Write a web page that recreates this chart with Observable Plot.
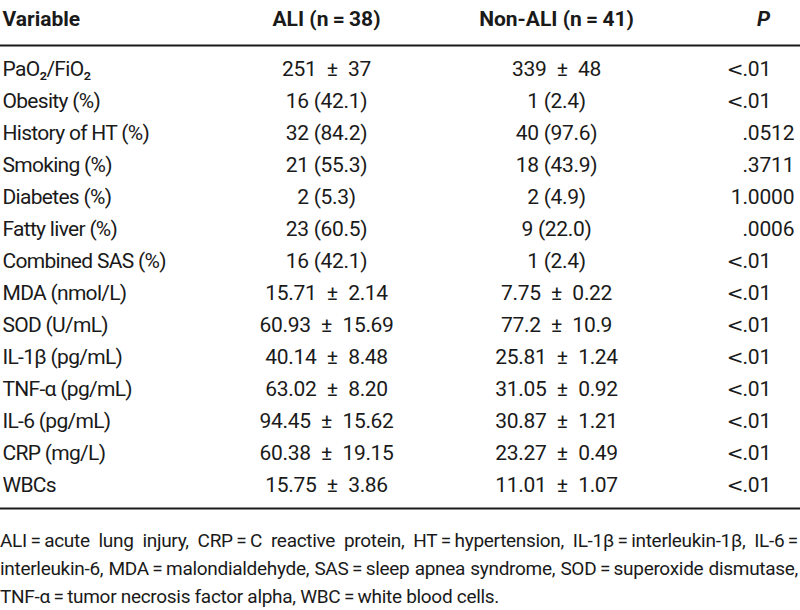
<!DOCTYPE html>
<html>
<head>
<meta charset="utf-8">
<script src="https://cdn.jsdelivr.net/npm/d3@7"></script>
<script src="https://cdn.jsdelivr.net/npm/@observablehq/plot@0.6"></script>
<style>
  html, body { margin: 0; padding: 0; background: #fff; }
  #note { width: 798px; margin-top: 5px; font-family: Roboto, "Liberation Sans", sans-serif;
          font-size: 19px; line-height: 28px; color: #1a1a1a; letter-spacing: -0.3px; }
  #note div { white-space: nowrap; }
  #note .j { text-align: justify; text-align-last: justify; }
</style>
</head>
<body>
<div id="chart"></div>
<div id="note"></div>
<script>
const variables = ["PaO\u2082/FiO\u2082", "Obesity (%)", "History of HT (%)", "Smoking (%)", "Diabetes (%)",
  "Fatty liver (%)", "Combined SAS (%)", "MDA (nmol/L)", "SOD (U/mL)", "IL-1\u03B2 (pg/mL)",
  "TNF-\u03B1 (pg/mL)", "IL-6 (pg/mL)", "CRP (mg/L)", "WBCs"];
const aliValues = ["251 \u00B1 37", "16 (42.1)", "32 (84.2)", "21 (55.3)", "2 (5.3)", "23 (60.5)", "16 (42.1)",
  "15.71 \u00B1 2.14", "60.93 \u00B1 15.69", "40.14 \u00B1 8.48", "63.02 \u00B1 8.20", "94.45 \u00B1 15.62",
  "60.38 \u00B1 19.15", "15.75 \u00B1 3.86"];
const nonAliValues = ["339 \u00B1 48", "1 (2.4)", "40 (97.6)", "18 (43.9)", "2 (4.9)", "9 (22.0)", "1 (2.4)",
  "7.75 \u00B1 0.22", "77.2 \u00B1 10.9", "25.81 \u00B1 1.24", "31.05 \u00B1 0.92", "30.87 \u00B1 1.21",
  "23.27 \u00B1 0.49", "11.01 \u00B1 1.07"];
const pValues = ["<.01", "<.01", ".0512", ".3711", "1.0000", ".0006", "<.01", "<.01", "<.01", "<.01",
  "<.01", "<.01", "<.01", "<.01"];
const columnKeys = ["Variable", "ALI", "Non-ALI", "P"];
const columnHeaders = ["Variable", "ALI (n\u2009=\u200938)", "Non-ALI (n\u2009=\u200941)", "P"];
const footnoteLines = [
  "ALI\u2009=\u2009acute lung injury, CRP\u2009=\u2009C reactive protein, HT\u2009=\u2009hypertension, IL-1\u03B2\u2009=\u2009interleukin-1\u03B2, IL-6\u2009=",
  "interleukin-6, MDA\u2009=\u2009malondialdehyde, SAS\u2009=\u2009sleep apnea syndrome, SOD\u2009=\u2009superoxide dismutase,",
  "TNF-\u03B1\u2009=\u2009tumor necrosis factor alpha, WBC\u2009=\u2009white blood cells."
];

// layout (not data): column anchor positions in the 0–800 frame
const colX = {"Variable": 2, "ALI": 326, "Non-ALI": 556, "P": 742};

const FONT = 'Roboto, "Liberation Sans", sans-serif';
const INK = "#1a1a1a";

// typographic spacing around the ± sign (en spaces)
const fmt = s => s.replace(" \u00B1 ", "\u2002\u00B1\u2002");

const valueCells = variables.flatMap((v, i) => [
  {row: v, col: "ALI", text: fmt(aliValues[i])},
  {row: v, col: "Non-ALI", text: fmt(nonAliValues[i])}
]);
const pCells = variables.map((v, i) => {
  const s = pValues[i];
  const k = s.indexOf(".");
  return {row: v, col: "P", pre: s.slice(0, k), post: s.slice(k)};
});
const headers = columnKeys.map((k, i) => ({col: k, label: columnHeaders[i]}));
const varCells = variables.map(v => ({row: v, col: "Variable", text: v}));

// render hook that sets letter-spacing on a mark's group
const tracking = ls => (index, scales, values, dims, context, next) => {
  const g = next(index, scales, values, dims, context);
  g.setAttribute("letter-spacing", ls);
  return g;
};

const common = {fontSize: 21, fill: INK, lineAnchor: "middle"};
const X = d => colX[d.col];

const chart = Plot.plot({
  width: 800,
  height: 522,
  margin: 0,
  style: {fontFamily: FONT, color: INK, background: "#fff"},
  x: {type: "linear", domain: [0, 800], range: [0, 800], axis: null},
  y: {type: "point", domain: variables, range: [65, 489], padding: 0, axis: null},
  marks: [
    // header row
    Plot.text(headers.filter(d => d.col === "Variable"), {x: X, text: "label", frameAnchor: "top", dy: 19,
      textAnchor: "start", fontWeight: "bold", ...common}),
    Plot.text(headers.filter(d => d.col === "ALI" || d.col === "Non-ALI"), {x: X, text: "label",
      frameAnchor: "top", dy: 19, textAnchor: "middle", fontWeight: "bold", ...common}),
    Plot.text(headers.filter(d => d.col === "P"), {x: X, text: "label", frameAnchor: "top", dy: 19, dx: 21,
      textAnchor: "middle", fontWeight: "bold", fontStyle: "italic", ...common}),
    // horizontal rules
    Plot.ruleY([variables[0]], {dy: -24, stroke: INK, strokeWidth: 1.9}),
    Plot.ruleY([variables[variables.length - 1]], {dy: 23, stroke: INK, strokeWidth: 1.9}),
    // variable names
    Plot.text(varCells, {x: X, y: "row", text: "text", textAnchor: "start", render: tracking(-0.7), ...common}),
    // group values, centred in their columns
    Plot.text(valueCells, {x: X, y: "row", text: "text", textAnchor: "middle", render: tracking(-0.3), ...common}),
    // P values aligned on the decimal point
    Plot.text(pCells.filter(d => d.pre === "<"), {x: X, y: "row", text: "pre", textAnchor: "end", dx: 1,
      ...common, fontSize: 20, fontFamily: '"DejaVu Sans", sans-serif'}),
    Plot.text(pCells.filter(d => d.pre !== "<"), {x: X, y: "row", text: "pre", textAnchor: "end", ...common}),
    Plot.text(pCells, {x: X, y: "row", text: "post", textAnchor: "start", render: tracking(-0.2), ...common})
  ]
});
document.getElementById("chart").append(chart);

const note = document.getElementById("note");
footnoteLines.forEach((line, i) => {
  const div = document.createElement("div");
  if (i < footnoteLines.length - 1) div.className = "j";
  div.textContent = line;
  note.append(div);
});
</script>
</body>
</html>
